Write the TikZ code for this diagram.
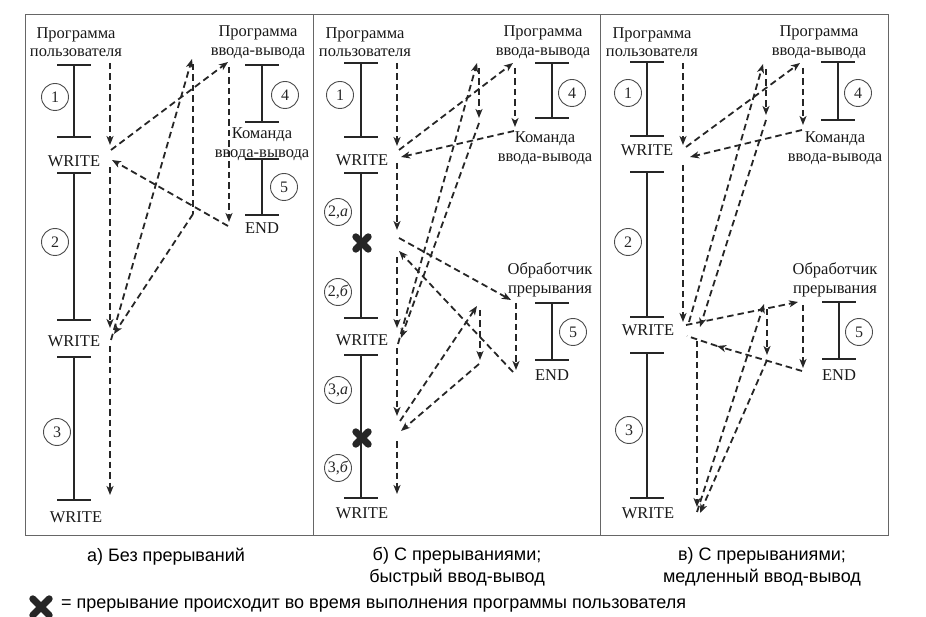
\documentclass[tikz,border=0pt]{standalone}
\usepackage{fontspec}
\setmainfont{Liberation Serif}
\newfontfamily\capsans{Liberation Sans}
\usetikzlibrary{arrows.meta}
\newcommand{\labfnt}{\fontsize{16.5}{18.5}\selectfont}
\newcommand{\numfnt}{\fontsize{16}{16}\selectfont}
\newcommand{\capfnt}{\capsans\fontsize{18}{21.5}\selectfont}

\begin{document}
\begin{tikzpicture}
[x=1pt,y=-1pt,
 frame/.style={draw=black!60,line width=1pt},
 bar/.style={draw=black!85,line width=1.8pt},
 fn/.style={draw=black!85,line width=1.8pt,dash pattern=on 6.5pt off 4pt},
 fl/.style={fn,-{Stealth[length=9pt,width=7pt,inset=2.5pt]}},
 num/.style={circle,draw=black!70,line width=0.9pt,minimum size=27pt,inner sep=0pt,font=\numfnt,text=black!85},
 lab/.style={align=center,font=\labfnt,text=black!90,inner sep=0pt},
 captxt/.style={align=center,font=\capfnt,inner sep=0pt},
 xmark/.style={minimum size=#1,inner sep=0pt},
 xline/.style={draw=black!85,line width=7pt,line cap=round}]
\useasboundingbox (0,0) rectangle (926,617);

\draw[frame] (25,15) rectangle (888,535);
\draw[frame] (313,15) -- (313,535);
\draw[frame] (600,15) -- (600,535);

\foreach \x/\ya/\yb in {74/65/137,74/173/320,74/357/500,262/65/122,262/159/215,
  361/63/137,361/173/318,361/355/498,552/63/118,552/303/360,
  647/62/136,647/172/317,647/353/498,838/62/120,839/302/359}
{
  \draw[bar] (\x-17,\ya) -- (\x+17,\ya);
  \draw[bar] (\x,\ya) -- (\x,\yb);
  \draw[bar] (\x-17,\yb) -- (\x+17,\yb);
}

\foreach \n/\x/\y/\t in {aN1/55/97/1,aN2/55/242/2,aN3/57/432/3,aN4/285/95/4,aN5/284/187/5,
  bN1/340/95/1,bN2a/338/212/{2,\textit{a}},bN2b/338/292/{2,\textit{б}},
  bN3a/338/390/{3,\textit{a}},bN3b/338/468/{3,\textit{б}},bN4/572/93/4,bN5/573/332/5,
  cN1/628/93/1,cN2/628/242/2,cN3/629/430/3,cN4/858/93/4,cN5/859/332/5}
  \node[num] (\n) at (\x,\y) {\t};

\node[lab] (aUP) at (76,42) {Программа\\пользователя};
\node[lab] (aIO) at (258,42) {Программа\\ввода-вывода};
\node[lab] (aCmd) at (262,144) {Команда\\ввода-вывода};
\node[lab] (aEND) at (262,228) {END};
\node[lab] (aW1) at (74,161) {WRITE};
\node[lab] (aW2) at (74,341) {WRITE};
\node[lab] (aW3) at (76,517) {WRITE};

\node[lab] (bUP) at (365,42) {Программа\\пользователя};
\node[lab] (bIO) at (543,42) {Программа\\ввода-вывода};
\node[lab] (bCmd) at (545,148) {Команда\\ввода-вывода};
\node[lab] (bIH) at (550,280) {Обработчик\\прерывания};
\node[lab] (bEND) at (552,375) {END};
\node[lab] (bW1) at (362,160) {WRITE};
\node[lab] (bW2) at (362,340) {WRITE};
\node[lab] (bW3) at (362,513) {WRITE};
\node[xmark=12pt] (bX1) at (362,243) {};
\node[xmark=12pt] (bX2) at (362,438) {};

\node[lab] (cUP) at (652,42) {Программа\\пользователя};
\node[lab] (cIO) at (819,42) {Программа\\ввода-вывода};
\node[lab] (cCmd) at (835,148) {Команда\\ввода-вывода};
\node[lab] (cIH) at (835,280) {Обработчик\\прерывания};
\node[lab] (cEND) at (839,375) {END};
\node[lab] (cW1) at (647,150) {WRITE};
\node[lab] (cW2) at (648,330) {WRITE};
\node[lab] (cW3) at (648,513) {WRITE};

\foreach \n/\x/\y in {aS/110/63,aW1t/110/145,aW1o/111/150,aIOt/228/62,aIOv/229/67,aIOb/229/222,
  aIOr/228/226,aW1r/112/160,aW1d/110/167,aW2t/110/328,aW2o/111/340,aIO2t/192/59,aIO2v/193/64,
  aIO2b/193/214,aW2r/114/334,aW2d/110/346,aEnd/110/495,
  bS/397/63,bW1t/397/146,bW1o/399/150,bIOt/513/63,bIOv/515/68,bIOb/515/127,bIOr/514/131,
  bW1r/401/157,bW1d/397/163,bX1t/397/230,bX1o/399/238,bIHt/511/300,bIHv/516/303,bIHb/516/370,
  bIHr/513/372,bX1r/399/251,bX1d/397/257,bW2t/397/328,bW2o/398/344,bIO2t/477/63,bIO2v/479/68,
  bIO2b/479/118,bIO2r/479/123,bW2r/401/338,bW2d/397/348,bX2t/397/416,bX2o/400/421,bIH2t/477/306,
  bIH2v/480/310,bIH2b/480/360,bIH2r/479/364,bX2r/401/431,bX2d/397/441,bEnd/397/494,
  cS/683/63,cW1t/683/145,cW1o/686/147,cIOt/800/63,cIOv/803/68,cIOb/803/125,cIOr/802/130,
  cW1r/690/157,cW1d/683/165,cW2t/683/322,cW2o/689/322,cIO2t/763/64,cIO2v/766/69,cIO2b/766/115,
  cIO2r/766/120,cW2r/700/327,cW2h/686/325,cIHt/798/302,cIHv/803/305,cIHb/803/368,cIHr/802/371,
  cIHm/717/346,cW2b/687/336,cW2d/697/341,cW3t/697/507,cW3o/697/512,cIH2t/764/304,cIH2v/767/309,
  cIH2b/767/355,cIH2r/767/360,cW3r/700/513}
  \coordinate (\n) at (\x,\y);

\foreach \a/\b in {aS/aW1t,aW1o/aIOt,aIOv/aIOb,aIOr/aW1r,aW1d/aW2t,aW2o/aIO2t,aIO2b/aW2r,aW2d/aEnd,
  bS/bW1t,bW1o/bIOt,bIOv/bIOb,bIOr/bW1r,bW1d/bX1t,bX1o/bIHt,bIHv/bIHb,bIHr/bX1r,bX1d/bW2t,
  bW2o/bIO2t,bIO2v/bIO2b,bIO2r/bW2r,bW2d/bX2t,bX2o/bIH2t,bIH2v/bIH2b,bIH2r/bX2r,bX2d/bEnd,
  cS/cW1t,cW1o/cIOt,cIOv/cIOb,cIOr/cW1r,cW1d/cW2t,cW2o/cIO2t,cIO2v/cIO2b,cIO2r/cW2r,cW2h/cIHt,
  cIHv/cIHb,cIHr/cIHm,cW2d/cW3t,cW3o/cIH2t,cIH2v/cIH2b,cIH2r/cW3r}
  \draw[fl] (\a) -- (\b);
\draw[fn] (aIO2v) -- (aIO2b);
\draw[fn] (cIHm) -- (cW2b);

\node[captxt] (capA) at (166,557) {а) Без прерываний};
\node[captxt] (capB) at (457,567) {б) С прерываниями;\\быстрый ввод-вывод};
\node[captxt] (capC) at (762,567) {в) С прерываниями;\\медленный ввод-вывод};
\node[xmark=16pt] (lX) at (41,607) {};
\node[captxt,anchor=west] (lT) at (61,606) {= прерывание происходит во время выполнения программы пользователя};

\foreach \m in {bX1,bX2,lX}
{
  \draw[xline] (\m.south west) -- (\m.north east);
  \draw[xline] (\m.north west) -- (\m.south east);
}
\end{tikzpicture}
\end{document}
